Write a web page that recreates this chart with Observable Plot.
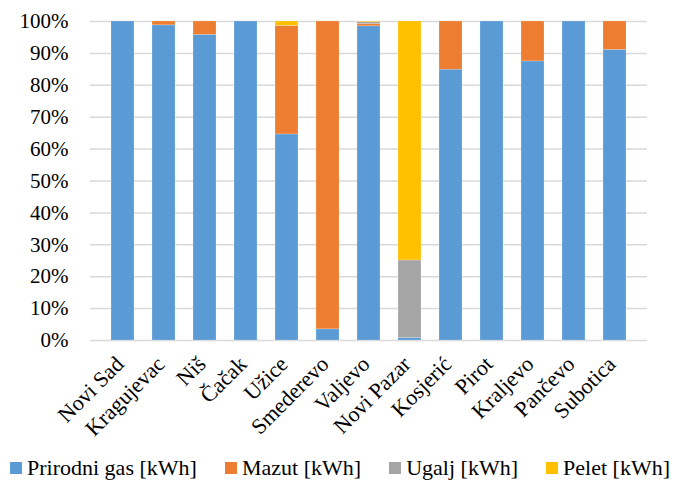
<!DOCTYPE html>
<html>
<head>
<meta charset="utf-8">
<style>body{margin:0;padding:0;background:#fff}</style>
<script src="https://cdn.jsdelivr.net/npm/d3@7"></script>
<script src="https://cdn.jsdelivr.net/npm/@observablehq/plot@0.6"></script>
</head>
<body>
<div id="chart" style="width:681px"></div>
<div id="legend" style="display:flex;justify-content:space-between;align-items:center;width:660px;margin:10px 0 0 10px;font-family:'Liberation Serif';font-size:22px;color:#000"></div>
<script>
// Share of each energy source in heat production per city (%)
const cities = ["Novi Sad", "Kragujevac", "Niš", "Čačak", "Užice", "Smederevo", "Valjevo", "Novi Pazar", "Kosjerić", "Pirot", "Kraljevo", "Pančevo", "Subotica"];
const prirodniGas = [100, 98.8, 95.8, 100, 64.6, 3.5, 98.5, 0.8, 84.9, 100, 87.5, 100, 91.1];
const mazut       = [0, 1.2, 4.2, 0, 34.0, 96.5, 0.7, 0, 15.1, 0, 12.5, 0, 8.9];
const ugalj       = [0, 0, 0, 0, 0, 0, 0.6, 24.3, 0, 0, 0, 0, 0];
const pelet       = [0, 0, 0, 0, 1.4, 0, 0.2, 74.9, 0, 0, 0, 0, 0];
const seriesNames = ["Prirodni gas [kWh]", "Mazut [kWh]", "Ugalj [kWh]", "Pelet [kWh]"];
const seriesColors = ["#5B9BD5", "#ED7D31", "#A5A5A5", "#FFC000"];
const yTicks = [0, 10, 20, 30, 40, 50, 60, 70, 80, 90, 100];

const seriesValues = [prirodniGas, mazut, ugalj, pelet];
const rows = [];
seriesNames.forEach((s, si) => {
  cities.forEach((c, ci) => rows.push({city: c, source: s, value: seriesValues[si][ci]}));
});

const chart = Plot.plot({
  width: 681,
  height: 445,
  marginLeft: 90,
  marginRight: 34,
  marginTop: 21,
  marginBottom: 105,
  style: {fontFamily: "'Liberation Serif'", fontSize: "21px", color: "#000", background: "#fff"},
  x: {domain: cities, padding: 0.43, label: null},
  y: {domain: [0, 100], label: null},
  color: {domain: seriesNames, range: seriesColors},
  marks: [
    Plot.gridY(yTicks, {stroke: "#d9d9d9", strokeOpacity: 1, strokeWidth: 1.5}),
    Plot.barY(rows, {x: "city", y: "value", fill: "source", stroke: "#ffffff", strokeOpacity: 0.25, strokeWidth: 0.75}),
    Plot.axisX({tickRotate: -45, tickSize: 0, tickPadding: 14, fontSize: 22, dx: -3, dy: 6, label: null}),
    Plot.axisY({ticks: yTicks, tickFormat: d => d + "%", tickSize: 0, tickPadding: 22, label: null})
  ]
});
document.getElementById("chart").appendChild(chart);

// Legend row below the chart
const legend = document.getElementById("legend");
seriesNames.forEach((s, i) => {
  const item = document.createElement("div");
  item.style.cssText = "display:flex;align-items:center";
  const sw = document.createElement("span");
  sw.style.cssText = "width:12px;height:12px;margin-right:5px;display:inline-block";
  sw.style.background = seriesColors[i];
  const label = document.createElement("span");
  label.textContent = s;
  item.appendChild(sw);
  item.appendChild(label);
  legend.appendChild(item);
});
</script>
</body>
</html>
